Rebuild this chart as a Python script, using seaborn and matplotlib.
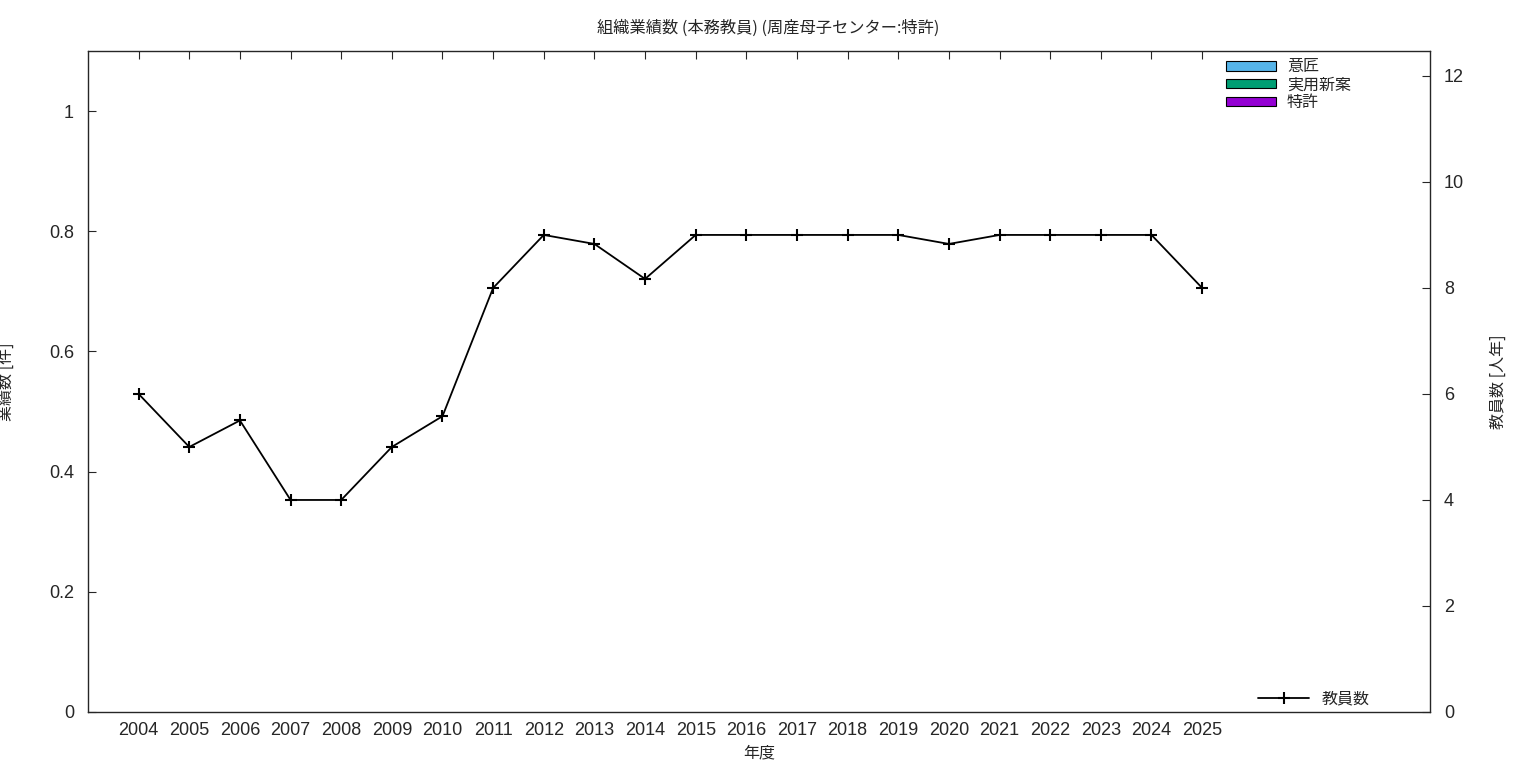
import numpy as np
import pandas as pd
import matplotlib
matplotlib.use("Agg")
import matplotlib.pyplot as plt
from matplotlib.patches import Patch
import seaborn as sns

# 年度と教員数 (人年)
years = list(range(2004, 2026))
staff = [6, 5, 5.5, 4, 4, 5, 5.58, 8, 9, 8.83, 8.17, 9, 9, 9, 9, 9, 8.83, 9, 9, 9, 9, 8]

# 業績数 (件) - all zero for this group
design = [0] * len(years)
utility = [0] * len(years)
patent = [0] * len(years)

series_names = ['意匠', '実用新案', '特許']
series_colors = ['#56b4e9', '#009e73', '#9400d3']

df = pd.DataFrame({'年度': years, '教員数': staff})

sns.set_style("white")
plt.rcParams['font.family'] = ['Noto Sans CJK JP', 'DejaVu Sans']

fig = plt.figure(figsize=(15.36, 7.68), dpi=100)
ax = fig.add_axes([88 / 1536, 56 / 768, (1430 - 88) / 1536, (712 - 51) / 768])

# stacked bars (empty here)
bottom = np.zeros(len(years))
for vals, c in zip([patent, utility, design], series_colors[::-1]):
    ax.bar(years, vals, bottom=bottom, width=0.5, color=c, edgecolor='none')
    bottom += np.array(vals)

ax.set_xlim(2003, 2029.5)
ax.set_ylim(0, 1.1)
ax.set_xticks(years)
ax.set_xticklabels([str(y) for y in years])
ax.set_yticks([0, 0.2, 0.4, 0.6, 0.8, 1.0])
ax.set_yticklabels(['0', '0.2', '0.4', '0.6', '0.8', '1'])
ax.tick_params(axis='both', direction='in', length=6, labelsize=13, width=0.8,
               top=True, pad=7)
ax.tick_params(axis='y', pad=10)
ax.set_xlabel('年度', fontsize=11.5, labelpad=4)
ax.set_ylabel('業績数 [件]', fontsize=11.5)
ax.yaxis.set_label_coords(-0.0544, 0.5)
for s in ax.spines.values():
    s.set_linewidth(0.9)
    s.set_color('black')

ax2 = ax.twinx()
sns.lineplot(data=df, x='年度', y='教員数', ax=ax2, color='black', linewidth=1.3,
             marker='+', markersize=8, markeredgewidth=1.5, markeredgecolor='black',
             label='教員数')
ax2.set_ylim(0, 12.47)
ax2.set_yticks([0, 2, 4, 6, 8, 10, 12])
ax2.tick_params(axis='y', direction='in', length=6, labelsize=13, pad=10)
ax2.set_ylabel('教員数 [人年]', fontsize=11.5)
ax2.yaxis.set_label_coords(1.0447, 0.5)
ax2.set_xlabel('')

for t in ax.get_xticklabels() + ax.get_yticklabels() + ax2.get_yticklabels():
    t.set_fontfamily('Liberation Sans')

leg2 = ax2.legend(loc='lower right', bbox_to_anchor=(0.966, -0.015), frameon=False,
                  fontsize=11.5, handlelength=3.2, handletextpad=0.8)

handles = [Patch(facecolor=c, edgecolor='black', linewidth=0.8) for c in series_colors]
leg1 = ax2.legend(handles, series_names, loc='upper left', bbox_to_anchor=(0.8387, 1.008),
                  frameon=False, fontsize=11.5, handlelength=3.1, handleheight=0.55,
                  labelspacing=0.05, handletextpad=0.7, borderpad=0.3)
ax2.add_artist(leg2)

fig.suptitle('組織業績数 (本務教員) (周産母子センター:特許)', y=0.975, fontsize=11.7)

fig.savefig('out.png', dpi=100)
